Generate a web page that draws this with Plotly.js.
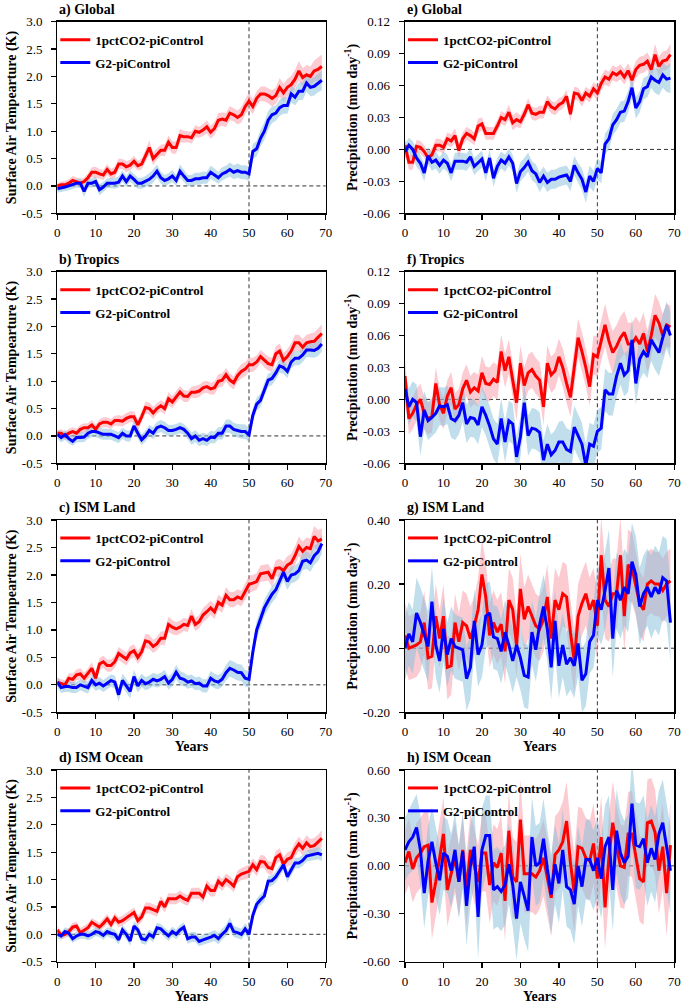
<!DOCTYPE html>
<html><head><meta charset="utf-8">
<script src="https://cdn.plot.ly/plotly-3.0.1.min.js"></script>
<style>html,body{margin:0;padding:0;background:#fff}#chart{width:685px;height:1007px}</style>
</head><body><div id="chart"></div>
<script>
// ---------------- DATA ----------------
const years = [0,1,2,3,4,5,6,7,8,9,10,11,12,13,14,15,16,17,18,19,20,21,22,23,24,25,26,27,28,29,30,31,32,33,34,35,36,37,38,39,40,41,42,43,44,45,46,47,48,49,50,51,52,53,54,55,56,57,58,59,60,61,62,63,64,65,66,67,68,69];
const yearTicks = [0,10,20,30,40,50,60,70];
const seriesNames = ['1pctCO2-piControl','G2-piControl'];
const panelTitles = ['a) Global','e) Global','b) Tropics','f) Tropics','c) ISM Land','g) ISM Land','d) ISM Ocean','h) ISM Ocean'];

const tempTicks = [-0.5,0,0.5,1,1.5,2,2.5,3];
const tempTickText = ['-0.5','0.0','0.5','1.0','1.5','2.0','2.5','3.0'];
const precTicks1 = [-0.06,-0.03,0,0.03,0.06,0.09,0.12];
const precTickText1 = ['-0.06','-0.03','0.00','0.03','0.06','0.09','0.12'];
const precTicks2 = [-0.2,0,0.2,0.4];
const precTickText2 = ['-0.20','0.00','0.20','0.40'];
const precTicks3 = [-0.6,-0.3,0,0.3,0.6];
const precTickText3 = ['-0.60','-0.30','0.00','0.30','0.60'];

// a) Global SAT
const aRed = [0.0,0.02,0.02,0.05,0.1,0.07,0.05,0.08,0.15,0.25,0.25,0.22,0.2,0.3,0.22,0.25,0.4,0.4,0.35,0.38,0.45,0.37,0.4,0.55,0.7,0.5,0.58,0.65,0.65,0.8,0.7,0.7,0.92,0.9,0.9,0.88,1.0,0.98,1.02,1.08,0.98,1.05,1.2,1.22,1.2,1.33,1.3,1.25,1.3,1.45,1.55,1.45,1.6,1.68,1.68,1.65,1.6,1.65,1.8,1.7,1.8,1.85,1.95,2.1,1.98,2.03,2.0,2.1,2.13,2.18];
const aRedS = [0.05,0.06,0.07,0.07,0.08,0.08,0.08,0.07,0.08,0.09,0.1,0.09,0.09,0.1,0.09,0.1,0.1,0.09,0.1,0.1,0.1,0.09,0.1,0.11,0.13,0.12,0.1,0.1,0.11,0.12,0.11,0.11,0.12,0.11,0.1,0.11,0.11,0.1,0.11,0.12,0.12,0.12,0.13,0.12,0.13,0.13,0.12,0.13,0.14,0.14,0.15,0.14,0.13,0.13,0.14,0.14,0.15,0.15,0.17,0.16,0.16,0.16,0.17,0.18,0.17,0.18,0.18,0.19,0.21,0.22];
const aBlue = [-0.05,-0.04,-0.02,0.0,0.02,0.05,0.05,-0.1,0.05,0.05,0.08,-0.07,-0.02,0.05,0.05,0.05,0.07,0.18,0.08,0.18,0.12,0.05,0.05,0.08,0.12,0.18,0.27,0.15,0.1,0.13,0.18,0.1,0.27,0.18,0.1,0.1,0.13,0.13,0.15,0.15,0.25,0.2,0.15,0.22,0.25,0.3,0.25,0.28,0.25,0.25,0.22,0.63,0.68,0.87,1.0,1.2,1.3,1.33,1.43,1.47,1.47,1.68,1.62,1.73,1.73,1.88,1.8,1.82,1.88,1.93];
const aBlueS = [0.07,0.07,0.07,0.08,0.08,0.08,0.09,0.1,0.08,0.08,0.09,0.1,0.09,0.09,0.09,0.1,0.1,0.1,0.1,0.1,0.1,0.1,0.1,0.1,0.11,0.12,0.12,0.11,0.1,0.1,0.11,0.1,0.12,0.11,0.1,0.1,0.11,0.11,0.11,0.11,0.12,0.12,0.11,0.12,0.12,0.13,0.13,0.13,0.13,0.13,0.13,0.14,0.14,0.15,0.16,0.17,0.15,0.14,0.15,0.15,0.15,0.15,0.15,0.16,0.16,0.16,0.16,0.17,0.17,0.18];

// e) Global precipitation
const eRed = [0.004,-0.012,-0.012,0.003,0.002,-0.002,-0.008,-0.005,0.004,0.004,0.002,0.01,0.008,0.013,-0.001,0.01,0.015,0.013,0.01,0.022,0.024,0.015,0.015,0.015,0.022,0.03,0.028,0.035,0.025,0.028,0.026,0.033,0.042,0.034,0.033,0.035,0.035,0.045,0.04,0.038,0.042,0.044,0.05,0.033,0.053,0.052,0.046,0.053,0.05,0.057,0.053,0.062,0.068,0.066,0.072,0.07,0.073,0.068,0.074,0.065,0.075,0.079,0.08,0.083,0.075,0.089,0.078,0.083,0.084,0.089];
const eRedS = [0.006,0.007,0.007,0.006,0.006,0.006,0.006,0.006,0.006,0.006,0.006,0.006,0.006,0.007,0.007,0.006,0.006,0.006,0.006,0.007,0.006,0.006,0.006,0.006,0.006,0.006,0.006,0.007,0.007,0.007,0.006,0.006,0.006,0.006,0.006,0.006,0.006,0.006,0.006,0.006,0.006,0.006,0.006,0.007,0.006,0.006,0.006,0.006,0.006,0.006,0.007,0.007,0.007,0.007,0.007,0.007,0.007,0.007,0.007,0.008,0.008,0.008,0.008,0.008,0.009,0.01,0.009,0.009,0.009,0.01];
const eBlue = [-0.002,0.004,0.0,-0.008,-0.013,-0.022,-0.006,-0.012,-0.01,-0.015,-0.01,-0.013,-0.022,-0.011,-0.011,-0.011,-0.012,-0.007,-0.016,-0.012,-0.009,-0.022,-0.008,-0.027,-0.016,-0.01,-0.013,-0.007,-0.013,-0.032,-0.021,-0.017,-0.012,-0.02,-0.023,-0.031,-0.025,-0.031,-0.028,-0.028,-0.026,-0.025,-0.024,-0.03,-0.015,-0.022,-0.028,-0.04,-0.025,-0.03,-0.018,-0.022,0.005,0.01,0.023,0.028,0.035,0.036,0.045,0.058,0.039,0.045,0.057,0.059,0.068,0.065,0.063,0.07,0.066,0.067];
const eBlueS = [0.007,0.007,0.008,0.008,0.008,0.008,0.008,0.008,0.008,0.008,0.008,0.008,0.008,0.008,0.008,0.008,0.008,0.008,0.008,0.008,0.008,0.008,0.008,0.008,0.008,0.008,0.008,0.008,0.008,0.009,0.009,0.009,0.009,0.009,0.009,0.009,0.009,0.009,0.009,0.009,0.009,0.009,0.009,0.009,0.009,0.009,0.01,0.01,0.01,0.01,0.01,0.01,0.01,0.01,0.01,0.01,0.01,0.01,0.01,0.01,0.01,0.01,0.01,0.01,0.01,0.012,0.012,0.012,0.012,0.014];

// b) Tropics SAT
const bRed = [0.05,0.05,0.0,0.05,0.08,0.05,0.12,0.15,0.15,0.2,0.12,0.22,0.25,0.25,0.22,0.28,0.28,0.27,0.32,0.35,0.35,0.2,0.35,0.52,0.5,0.42,0.5,0.55,0.5,0.68,0.62,0.72,0.8,0.73,0.72,0.8,0.8,0.82,0.88,0.9,0.86,0.88,1.0,1.02,1.12,1.02,0.97,1.1,1.18,1.22,1.3,1.3,1.35,1.45,1.38,1.32,1.3,1.5,1.55,1.38,1.45,1.55,1.7,1.7,1.62,1.7,1.72,1.73,1.8,1.87];
const bRedS = [0.06,0.07,0.07,0.08,0.08,0.08,0.08,0.08,0.08,0.09,0.09,0.08,0.09,0.09,0.09,0.09,0.1,0.1,0.1,0.1,0.1,0.11,0.1,0.11,0.11,0.11,0.1,0.1,0.11,0.12,0.11,0.11,0.11,0.11,0.1,0.1,0.11,0.11,0.11,0.11,0.11,0.12,0.12,0.12,0.12,0.12,0.12,0.12,0.13,0.13,0.13,0.13,0.12,0.12,0.13,0.13,0.13,0.14,0.14,0.14,0.14,0.14,0.15,0.15,0.15,0.15,0.15,0.16,0.16,0.17];
const bBlue = [0.03,-0.03,0.02,-0.05,-0.1,-0.03,-0.03,-0.02,0.05,0.08,0.08,0.05,0.03,0.03,0.03,0.0,-0.03,0.05,0.0,0.0,0.18,0.05,-0.07,0.0,0.1,0.05,0.15,0.18,0.15,0.1,0.1,0.12,0.15,0.12,0.05,-0.05,0.0,-0.08,-0.05,-0.08,-0.02,-0.03,0.05,0.05,0.18,0.18,0.12,0.1,0.08,0.08,0.02,0.38,0.58,0.65,0.85,1.02,1.05,1.15,1.28,1.25,1.18,1.35,1.42,1.42,1.48,1.57,1.57,1.56,1.6,1.68];
const bBlueS = [0.08,0.09,0.09,0.09,0.08,0.09,0.09,0.09,0.1,0.1,0.1,0.1,0.1,0.1,0.1,0.1,0.1,0.1,0.1,0.1,0.11,0.11,0.1,0.1,0.1,0.11,0.11,0.11,0.11,0.1,0.1,0.1,0.1,0.1,0.1,0.11,0.11,0.11,0.11,0.11,0.11,0.11,0.11,0.12,0.12,0.12,0.12,0.12,0.13,0.13,0.13,0.12,0.12,0.12,0.12,0.12,0.12,0.12,0.12,0.12,0.12,0.12,0.13,0.13,0.13,0.13,0.13,0.13,0.14,0.14];

// f) Tropics precipitation
const fRed = [0.022,-0.018,-0.013,-0.005,0.0,-0.013,-0.018,-0.016,0.015,-0.005,-0.013,0.003,0.011,-0.009,-0.005,0.01,0.018,0.007,0.011,0.008,0.025,0.015,0.014,0.019,0.016,0.045,0.027,0.04,0.018,-0.003,0.034,0.013,0.025,0.028,0.022,0.018,-0.007,0.034,0.023,0.027,0.04,0.03,0.015,0.002,0.03,0.058,0.045,0.03,0.012,0.042,0.04,0.055,0.07,0.055,0.044,0.05,0.058,0.063,0.052,0.052,0.058,0.052,0.062,0.045,0.06,0.079,0.072,0.06,0.07,0.068];
const fRedS = [0.014,0.015,0.015,0.015,0.015,0.015,0.015,0.015,0.015,0.015,0.015,0.015,0.015,0.015,0.015,0.015,0.015,0.015,0.015,0.015,0.016,0.016,0.016,0.016,0.016,0.016,0.016,0.016,0.016,0.017,0.017,0.017,0.017,0.017,0.017,0.017,0.017,0.017,0.017,0.017,0.017,0.018,0.018,0.018,0.018,0.018,0.018,0.018,0.018,0.018,0.019,0.02,0.02,0.02,0.02,0.02,0.02,0.02,0.02,0.02,0.02,0.02,0.02,0.02,0.02,0.02,0.02,0.02,0.02,0.02];
const fBlue = [0.01,-0.007,0.0,-0.003,-0.035,-0.01,-0.02,-0.017,-0.013,-0.006,-0.007,-0.005,-0.018,-0.02,-0.015,-0.003,-0.023,-0.017,-0.018,-0.024,-0.007,-0.015,-0.025,-0.037,-0.042,-0.018,-0.04,-0.02,-0.023,-0.054,-0.035,-0.003,-0.034,-0.027,-0.028,-0.031,-0.057,-0.042,-0.052,-0.048,-0.04,-0.04,-0.047,-0.049,-0.026,-0.034,-0.042,-0.062,-0.042,-0.044,-0.03,-0.027,0.009,0.005,0.005,0.022,0.034,0.023,0.027,0.056,0.015,0.038,0.045,0.04,0.056,0.05,0.044,0.058,0.07,0.06];
const fBlueS = [0.016,0.017,0.017,0.017,0.018,0.018,0.018,0.018,0.018,0.018,0.018,0.018,0.018,0.018,0.018,0.018,0.018,0.018,0.018,0.018,0.019,0.019,0.019,0.019,0.019,0.019,0.019,0.019,0.019,0.019,0.019,0.019,0.019,0.019,0.019,0.019,0.019,0.019,0.019,0.019,0.019,0.02,0.02,0.02,0.02,0.02,0.02,0.02,0.02,0.02,0.02,0.02,0.02,0.02,0.02,0.02,0.02,0.02,0.02,0.02,0.02,0.02,0.02,0.02,0.02,0.022,0.022,0.022,0.022,0.022];

// c) ISM Land SAT
const cRed = [0.05,0.02,0.0,0.12,0.1,0.18,0.2,0.12,0.2,0.3,0.12,0.38,0.42,0.35,0.35,0.42,0.57,0.52,0.47,0.58,0.62,0.5,0.6,0.8,0.78,0.7,0.75,0.85,0.85,1.1,1.05,1.02,1.05,1.1,1.08,1.25,1.1,1.15,1.27,1.33,1.4,1.33,1.5,1.45,1.63,1.55,1.55,1.6,1.57,1.7,1.83,1.85,1.88,2.02,2.03,2.05,1.93,2.12,2.13,2.08,2.18,2.22,2.35,2.52,2.43,2.5,2.48,2.7,2.62,2.65];
const cRedS = [0.08,0.08,0.09,0.09,0.1,0.1,0.1,0.1,0.1,0.11,0.11,0.11,0.11,0.11,0.11,0.11,0.12,0.12,0.12,0.12,0.12,0.12,0.12,0.13,0.13,0.12,0.12,0.12,0.13,0.14,0.13,0.12,0.12,0.12,0.12,0.13,0.12,0.12,0.13,0.13,0.13,0.13,0.14,0.14,0.15,0.14,0.14,0.14,0.14,0.15,0.16,0.15,0.15,0.15,0.15,0.15,0.15,0.15,0.16,0.16,0.16,0.16,0.17,0.18,0.18,0.18,0.18,0.19,0.2,0.2];
const cBlue = [0.05,-0.05,-0.03,-0.03,-0.05,-0.05,0.0,-0.03,-0.05,0.08,0.0,0.03,-0.02,0.03,0.08,0.05,-0.18,0.08,-0.02,-0.12,0.15,-0.02,0.08,0.02,0.05,0.1,0.07,0.1,0.15,0.03,0.1,0.23,0.12,0.1,0.05,0.07,0.02,0.03,-0.02,-0.02,0.12,0.07,0.05,0.1,0.22,0.3,0.27,0.23,0.22,0.12,0.1,0.6,1.0,1.2,1.4,1.53,1.65,1.73,1.88,2.05,1.88,2.0,2.02,2.08,2.25,2.27,2.22,2.35,2.42,2.57];
const cBlueS = [0.1,0.1,0.1,0.1,0.1,0.1,0.1,0.1,0.11,0.11,0.11,0.11,0.11,0.11,0.11,0.12,0.13,0.12,0.12,0.13,0.12,0.12,0.12,0.12,0.12,0.12,0.12,0.12,0.12,0.12,0.12,0.13,0.13,0.12,0.12,0.12,0.12,0.12,0.12,0.12,0.13,0.13,0.13,0.13,0.14,0.15,0.15,0.15,0.15,0.15,0.15,0.16,0.16,0.16,0.15,0.15,0.15,0.15,0.15,0.15,0.15,0.15,0.15,0.15,0.16,0.16,0.16,0.17,0.17,0.18];

// g) ISM Land precipitation
const gRed = [0.04,0.0,0.005,0.01,0.02,0.08,-0.03,-0.025,0.1,0.03,0.1,-0.06,-0.055,0.08,0.02,0.08,0.07,0.03,0.07,0.12,0.23,0.16,0.04,0.08,0.05,0.075,-0.01,0.15,0.12,0.01,0.185,0.09,0.13,0.1,0.07,0.06,0.09,0.16,0.03,0.15,0.12,0.17,0.16,0.05,-0.04,0.1,0.14,0.17,0.12,0.15,0.07,0.29,0.15,0.13,0.17,0.17,0.29,0.1,0.26,0.25,0.2,0.14,0.12,0.2,0.21,0.2,0.2,0.18,0.2,0.21];
const gRedS = [0.1,0.1,0.1,0.1,0.09,0.1,0.1,0.1,0.1,0.09,0.1,0.1,0.09,0.09,0.09,0.1,0.1,0.1,0.09,0.1,0.11,0.11,0.1,0.1,0.1,0.1,0.1,0.1,0.1,0.1,0.11,0.1,0.1,0.1,0.1,0.1,0.1,0.1,0.1,0.1,0.1,0.1,0.1,0.1,0.1,0.1,0.1,0.1,0.1,0.1,0.11,0.12,0.12,0.11,0.11,0.11,0.12,0.11,0.11,0.11,0.1,0.1,0.1,0.1,0.1,0.1,0.1,0.1,0.1,0.1];
const gBlue = [0.0,0.045,0.02,0.11,0.08,0.04,0.005,0.145,0.01,-0.04,0.06,-0.02,0.03,0.005,0.0,-0.005,-0.095,-0.06,0.085,-0.02,0.01,0.1,0.11,0.035,0.03,-0.01,0.05,0.01,-0.04,0.01,-0.03,-0.085,-0.09,0.05,-0.005,0.075,0.13,0.06,-0.06,0.085,-0.055,0.01,-0.05,-0.03,-0.055,0.015,-0.1,-0.08,0.02,0.04,0.15,0.12,0.18,0.25,0.03,0.18,0.15,0.19,0.17,0.27,0.23,0.13,0.17,0.19,0.16,0.19,0.17,0.22,0.21,0.08];
const gBlueS = [0.1,0.1,0.1,0.11,0.11,0.11,0.11,0.11,0.1,0.1,0.1,0.1,0.1,0.1,0.1,0.1,0.1,0.1,0.1,0.1,0.1,0.1,0.1,0.1,0.1,0.1,0.1,0.1,0.1,0.1,0.1,0.1,0.1,0.1,0.1,0.1,0.1,0.1,0.1,0.1,0.1,0.1,0.1,0.1,0.1,0.1,0.1,0.1,0.1,0.1,0.11,0.11,0.12,0.12,0.12,0.12,0.12,0.12,0.12,0.12,0.12,0.12,0.12,0.12,0.13,0.13,0.13,0.13,0.13,0.12];

// d) ISM Ocean SAT
const dRed = [0.08,-0.02,0.0,0.05,0.13,0.15,0.03,0.08,0.12,0.22,0.18,0.13,0.2,0.28,0.18,0.3,0.22,0.25,0.3,0.35,0.4,0.25,0.32,0.48,0.48,0.45,0.42,0.6,0.5,0.65,0.65,0.65,0.7,0.65,0.62,0.75,0.75,0.75,0.68,0.88,0.8,0.8,0.97,0.9,1.0,0.95,0.88,1.05,1.1,1.12,1.15,1.27,1.18,1.33,1.32,1.22,1.2,1.4,1.45,1.28,1.37,1.4,1.55,1.65,1.57,1.67,1.6,1.62,1.68,1.75];
const dRedS = [0.07,0.07,0.07,0.07,0.08,0.08,0.08,0.08,0.08,0.08,0.08,0.08,0.09,0.09,0.09,0.09,0.09,0.09,0.09,0.09,0.09,0.09,0.1,0.1,0.1,0.1,0.1,0.1,0.1,0.1,0.1,0.1,0.1,0.1,0.1,0.1,0.1,0.1,0.1,0.11,0.11,0.11,0.11,0.11,0.11,0.11,0.11,0.11,0.11,0.12,0.12,0.12,0.12,0.12,0.12,0.12,0.12,0.12,0.12,0.13,0.13,0.13,0.13,0.13,0.13,0.14,0.14,0.14,0.14,0.15];
const dBlue = [0.0,-0.03,0.05,0.02,-0.08,-0.03,0.0,0.0,-0.03,0.0,0.05,0.03,-0.02,0.05,0.02,0.0,-0.1,0.08,0.0,-0.12,0.15,0.08,-0.08,-0.1,0.0,-0.05,0.12,0.1,0.03,-0.03,0.05,0.0,0.08,0.13,-0.08,-0.05,-0.05,-0.13,-0.1,-0.08,-0.05,-0.02,-0.08,0.0,0.07,0.2,0.05,0.03,0.0,0.1,0.0,0.35,0.55,0.63,0.7,0.97,0.98,1.05,1.15,1.27,1.05,1.18,1.3,1.3,1.35,1.43,1.45,1.47,1.48,1.45];
const dBlueS = [0.07,0.07,0.08,0.08,0.08,0.08,0.08,0.08,0.08,0.08,0.08,0.08,0.08,0.08,0.09,0.09,0.09,0.09,0.09,0.09,0.09,0.09,0.09,0.09,0.09,0.09,0.09,0.09,0.09,0.09,0.09,0.09,0.09,0.09,0.09,0.09,0.09,0.09,0.09,0.09,0.09,0.1,0.1,0.1,0.1,0.11,0.1,0.1,0.1,0.1,0.1,0.1,0.1,0.1,0.1,0.1,0.1,0.1,0.1,0.1,0.1,0.1,0.1,0.1,0.1,0.1,0.1,0.11,0.11,0.11];

// h) ISM Ocean precipitation
const hRed = [0.02,0.09,-0.02,0.05,0.08,0.12,0.13,-0.23,-0.1,0.05,0.2,-0.15,-0.05,0.05,-0.1,0.1,-0.15,0.1,0.0,-0.1,0.08,0.08,-0.12,0.02,-0.01,0.08,-0.22,0.22,-0.07,-0.1,0.29,-0.05,-0.05,-0.05,-0.07,-0.03,0.05,-0.08,-0.2,0.07,0.1,0.15,0.28,0.02,-0.17,0.12,0.11,0.05,0.03,0.14,-0.08,0.18,-0.26,0.05,0.27,0.12,0.0,-0.01,0.2,0.2,0.07,-0.08,-0.1,0.27,0.28,0.21,-0.03,0.12,-0.17,0.13];
const hRedS = [0.2,0.21,0.21,0.22,0.22,0.22,0.22,0.23,0.23,0.23,0.23,0.23,0.22,0.22,0.22,0.22,0.23,0.23,0.23,0.23,0.24,0.24,0.24,0.24,0.24,0.24,0.25,0.25,0.25,0.25,0.25,0.24,0.24,0.24,0.24,0.24,0.24,0.24,0.24,0.24,0.24,0.25,0.25,0.25,0.25,0.25,0.25,0.25,0.25,0.25,0.26,0.26,0.26,0.26,0.26,0.26,0.26,0.26,0.26,0.27,0.27,0.27,0.27,0.27,0.27,0.27,0.27,0.27,0.27,0.27];
const hBlue = [0.1,0.15,0.18,0.24,0.1,-0.17,0.03,0.15,0.02,-0.09,0.08,0.06,-0.03,0.1,-0.1,0.09,-0.25,0.0,0.12,-0.32,0.1,0.19,0.19,-0.15,-0.13,-0.16,-0.12,0.01,-0.12,-0.33,-0.1,-0.2,-0.28,0.18,0.0,0.02,0.17,-0.02,-0.18,0.01,-0.11,0.1,-0.13,-0.15,-0.24,0.0,-0.13,0.04,0.04,-0.03,0.05,-0.08,0.12,0.18,-0.15,0.22,0.08,0.02,0.06,0.39,0.13,0.12,0.17,0.02,0.11,0.04,0.2,0.27,0.12,-0.03];
const hBlueS = [0.2,0.2,0.21,0.21,0.22,0.22,0.22,0.22,0.22,0.22,0.23,0.23,0.23,0.23,0.23,0.24,0.25,0.25,0.25,0.26,0.26,0.25,0.25,0.25,0.25,0.25,0.25,0.25,0.26,0.26,0.26,0.26,0.26,0.25,0.25,0.25,0.25,0.25,0.25,0.25,0.25,0.25,0.25,0.25,0.25,0.25,0.25,0.25,0.25,0.25,0.25,0.25,0.26,0.26,0.26,0.26,0.26,0.26,0.26,0.27,0.27,0.27,0.27,0.27,0.27,0.27,0.27,0.27,0.27,0.27];

// ---------------- BUILD ----------------
const FONT = '"Liberation Serif", "Times New Roman", serif';
const panels = [
  {red:aRed, redS:aRedS, blue:aBlue, blueS:aBlueS, kind:'T'},
  {red:eRed, redS:eRedS, blue:eBlue, blueS:eBlueS, kind:'P1'},
  {red:bRed, redS:bRedS, blue:bBlue, blueS:bBlueS, kind:'T'},
  {red:fRed, redS:fRedS, blue:fBlue, blueS:fBlueS, kind:'P1'},
  {red:cRed, redS:cRedS, blue:cBlue, blueS:cBlueS, kind:'T'},
  {red:gRed, redS:gRedS, blue:gBlue, blueS:gBlueS, kind:'P2'},
  {red:dRed, redS:dRedS, blue:dBlue, blueS:dBlueS, kind:'T'},
  {red:hRed, redS:hRedS, blue:hBlue, blueS:hBlueS, kind:'P3'}
];
const kinds = {
  T: {range:[-0.5,3], tv:tempTicks, tt:tempTickText, title:'Surface Air Tempearture (K)'},
  P1:{range:[-0.06,0.12], tv:precTicks1, tt:precTickText1, title:'Precipitation (mm day<sup>-1</sup>)'},
  P2:{range:[-0.2,0.4], tv:precTicks2, tt:precTickText2, title:'Precipitation (mm day<sup>-1</sup>)'},
  P3:{range:[-0.6,0.6], tv:precTicks3, tt:precTickText3, title:'Precipitation (mm day<sup>-1</sup>)'}
};
const W = 685, H = 1007;
const colX = [[57.3,325.7],[405,674.3]];
const rowY = [[21.7,213.3],[271.7,463.3],[520,712.3],[770,961.7]];
const redLine = '#ff0000', blueLine = '#0000ff';
const redFill = 'rgba(248,140,155,0.45)', blueFill = 'rgba(130,190,218,0.5)';

const traces = [];
const layout = {
  width: W, height: H, margin:{l:0,r:0,t:0,b:0},
  paper_bgcolor:'#fff', plot_bgcolor:'rgba(0,0,0,0)',
  font:{family:FONT, color:'#000', size:13},
  showlegend:true, shapes:[], annotations:[]
};
const revYears = years.slice().reverse();

panels.forEach((p, i) => {
  const n = i + 1;
  const xa = n === 1 ? 'x' : 'x' + n;
  const ya = n === 1 ? 'y' : 'y' + n;
  const legName = n === 1 ? 'legend' : 'legend' + n;
  const col = i % 2, row = Math.floor(i / 2);
  const k = kinds[p.kind];
  const dx = [colX[col][0] / W, colX[col][1] / W];
  const dy = [1 - rowY[row][1] / H, 1 - rowY[row][0] / H];

  [[p.red, p.redS, redFill], [p.blue, p.blueS, blueFill]].forEach(([m, s, fc]) => {
    const up = m.map((v, j) => v + s[j]);
    const lo = m.map((v, j) => v - s[j]).reverse();
    traces.push({type:'scatter', mode:'lines', x: years.concat(revYears), y: up.concat(lo),
      fill:'toself', fillcolor: fc, line:{width:0}, hoverinfo:'skip', showlegend:false,
      xaxis: xa, yaxis: ya});
  });
  [[p.red, redLine, seriesNames[0]], [p.blue, blueLine, seriesNames[1]]].forEach(([m, c, nm], si) => {
    traces.push({type:'scatter', mode:'lines', x: years, y: m, name: nm,
      line:{color:c, width:3}, xaxis: xa, yaxis: ya, legend: legName,
      legendgroup: 'g' + n + '_' + si});
  });

  const xKey = n === 1 ? 'xaxis' : 'xaxis' + n;
  const yKey = n === 1 ? 'yaxis' : 'yaxis' + n;
  const axBase = {showline:true, mirror:true, linecolor:'#000', linewidth:1.3, ticks:'outside',
    ticklen:5, tickwidth:1.3, tickcolor:'#000', showgrid:false, zeroline:false,
    tickfont:{family:FONT, size:13, color:'#000'}, automargin:false, fixedrange:true};
  layout[xKey] = Object.assign({}, axBase, {domain:dx, range:[0,70], anchor: ya,
    tickmode:'array', tickvals: yearTicks, ticktext: yearTicks.map(String), ticklabelstandoff:2});
  if (row >= 2) {
    layout[xKey].title = {text:'Years', font:{family:FONT, size:14, weight:'bold', color:'#000'}, standoff:2};
  }
  layout[yKey] = Object.assign({}, axBase, {domain:dy, range:k.range, anchor: xa,
    tickmode:'array', tickvals:k.tv, ticktext:k.tt, ticklabelstandoff:6,
    title:{text:k.title, font:{family:FONT, size:14, weight:'bold', color:'#000'}, standoff:2}});

  layout[legName] = {x: (colX[col][0] - 2) / W, y: 1 - (rowY[row][0] + 3) / H, xanchor:'left', yanchor:'top',
    bgcolor:'rgba(0,0,0,0)', borderwidth:0, tracegroupgap:3, itemwidth:30,
    font:{family:FONT, size:13, weight:'bold', color:'#000'}};

  layout.shapes.push({type:'line', xref: xa + ' domain', x0:0, x1:1, yref: ya, y0:0, y1:0,
    line:{color:'#333', width:1, dash:'4px,3px'}, layer:'below'});
  layout.shapes.push({type:'line', xref: xa, x0:50, x1:50, yref: ya + ' domain', y0:0, y1:1,
    line:{color:'#333', width:1, dash:'4px,3px'}, layer:'below'});

  layout.annotations.push({xref: xa + ' domain', yref: ya + ' domain', x:0, y:1, xanchor:'left', yanchor:'bottom',
    yshift:2, showarrow:false, text: panelTitles[i],
    font:{family:FONT, size:14, weight:'bold', color:'#000'}});
});

Plotly.newPlot('chart', traces, layout, {displayModeBar:false, staticPlot:true});
</script>
</body></html>
